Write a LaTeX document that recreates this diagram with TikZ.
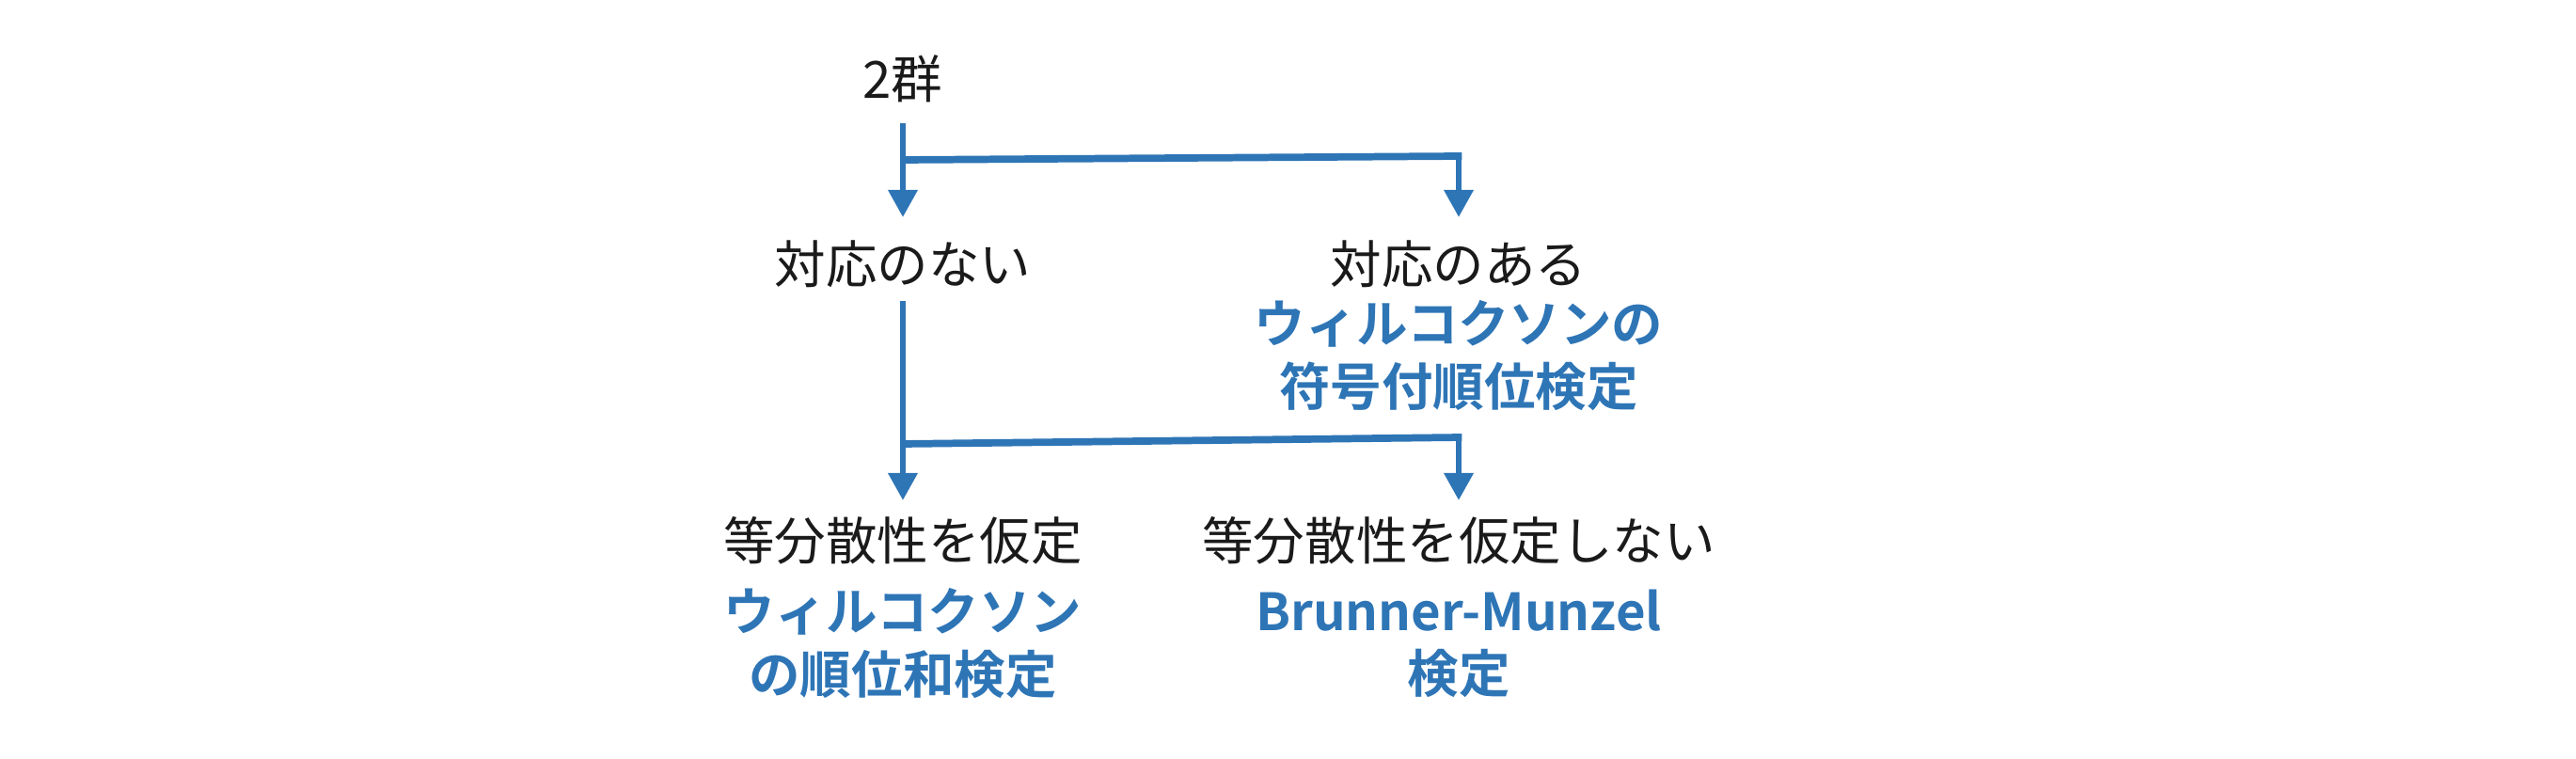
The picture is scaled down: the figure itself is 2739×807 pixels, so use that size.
\documentclass[tikz,border=0pt]{standalone}
\usepackage{fontspec}
\setmainfont{Noto Sans CJK JP}
\newfontfamily\jpbold{Noto Sans CJK JP Bold}
\usetikzlibrary{arrows.meta}
\definecolor{lineblue}{HTML}{2E75B6}
\definecolor{txtblack}{HTML}{1A1A1A}
\tikzset{
  lbl/.style={inner sep=0pt, text=txtblack, font=\fontsize{15.5pt}{18.8pt}\selectfont},
  res/.style={inner sep=0pt, align=center, text=lineblue, font=\fontsize{15.5pt}{18.8pt}\selectfont\jpbold},
  vline/.style={draw=lineblue, line width=1.9pt},
  hline/.style={draw=lineblue, line width=2.2pt},
  arr/.style={vline, -{Triangle[length=0.29cm,width=0.30cm]}},
}
\begin{document}
\begin{tikzpicture}[x=0.01cm,y=-0.01cm]
\useasboundingbox (0,0) rectangle (2739,807);
% nodes
\node[lbl] (g2) at (960,84) {2群};
\node[lbl] (nai) at (960,281) {対応のない};
\node[lbl] (aru) at (1551,281) {対応のある};
\node[res] (wsr) at (1551,378) {ウィルコクソンの\\符号付順位検定};
\node[lbl] (eq) at (960,575) {等分散性を仮定};
\node[lbl] (neq) at (1551,575) {等分散性を仮定しない};
\node[res] (wrs) at (960,684) {ウィルコクソン\\の順位和検定};
\node[res] (bm) at (1551,684) {Brunner-Munzel\\検定};
% junctions
\coordinate (j1) at (960,170);
\coordinate (j1r) at (1551,166);
\coordinate (j2) at (960,472);
\coordinate (j2r) at (1551,465);
% connectors level 1
\draw[arr] ([yshift=-0.47cm]g2.center) -- ([yshift=0.50cm]nai.center);
\draw[hline] (j1) -- ([xshift=0.95pt]j1r);
\draw[arr] (j1r) -- ([yshift=0.50cm]aru.center);
% connectors level 2
\draw[arr] ([yshift=-0.39cm]nai.center) -- ([yshift=0.43cm]eq.center);
\draw[hline] (j2) -- ([xshift=0.95pt]j2r);
\draw[arr] (j2r) -- ([yshift=0.43cm]neq.center);
\end{tikzpicture}
\end{document}
